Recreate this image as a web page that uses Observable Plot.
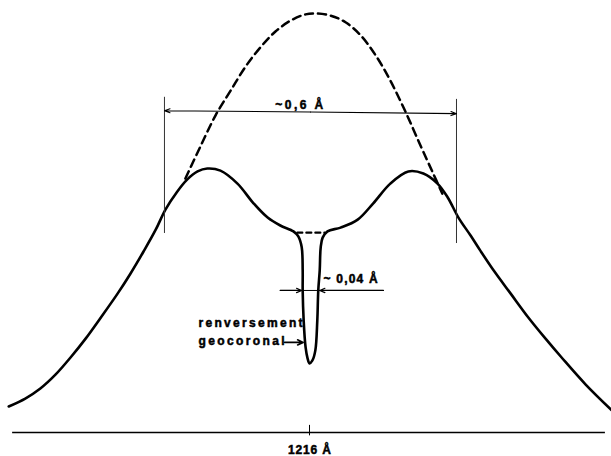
<!DOCTYPE html>
<html><head><meta charset="utf-8">
<script src="https://cdn.jsdelivr.net/npm/d3@7"></script>
<script src="https://cdn.jsdelivr.net/npm/@observablehq/plot@0.6"></script>
<style>body{margin:0;background:#fff}</style>
</head><body><div id="chart"></div>
<script>
// Observed Lyman-alpha profile (offset from line centre in Å, relative intensity)
const profileOffset = [-0.618,-0.584,-0.553,-0.522,-0.491,-0.460,-0.429,-0.394,-0.368,-0.341,-0.316,-0.296,-0.273,-0.251,-0.230,-0.210,-0.183,-0.148,-0.115,-0.086,-0.060,-0.033,-0.023,-0.016,-0.014,-0.014,-0.012,-0.008,-0.004,0.000,0.006,0.012,0.016,0.018,0.021,0.023,0.027,0.037,0.064,0.099,0.131,0.166,0.203,0.234,0.263,0.284,0.306,0.331,0.351,0.380,0.413,0.450,0.485,0.518,0.567,0.621];
const profileIntensity = [0.062,0.081,0.105,0.138,0.179,0.224,0.274,0.332,0.379,0.432,0.484,0.532,0.573,0.604,0.623,0.630,0.625,0.594,0.547,0.513,0.494,0.480,0.468,0.442,0.387,0.339,0.267,0.203,0.177,0.165,0.172,0.196,0.267,0.339,0.387,0.442,0.465,0.480,0.489,0.508,0.547,0.594,0.623,0.618,0.594,0.561,0.513,0.470,0.434,0.384,0.332,0.274,0.224,0.179,0.115,0.053];
// Unreversed (no self-absorption) profile, dashed
const unreversedOffset = [-0.255,-0.224,-0.193,-0.162,-0.131,-0.101,-0.070,-0.039,-0.008,0.012,0.043,0.074,0.105,0.136,0.166,0.197,0.228,0.253,0.273];
const unreversedIntensity = [0.606,0.683,0.757,0.816,0.874,0.919,0.957,0.983,0.998,1.000,0.995,0.979,0.948,0.900,0.840,0.766,0.685,0.621,0.570];
// Profile without geocoronal absorption, dashed plateau
const plateauOffset = [-0.025, 0.031];
const plateauIntensity = [0.477, 0.477];
// Axis
const tickValues = [0];
const tickLabels = ["1216 Å"];
// Annotation texts
const labelWide = "~0,6 Å";
const labelNarrow = "~ 0,04 Å";
const labelReversal = ["renversement", "geocoronal"];

const profile = profileOffset.map((x, i) => ({x, y: profileIntensity[i]}));
const unreversed = unreversedOffset.map((x, i) => ({x, y: unreversedIntensity[i]}));
const plateau = plateauOffset.map((x, i) => ({x, y: plateauIntensity[i]}));

const font = {fontSize: 12, fontWeight: "bold", stroke: "#000", strokeWidth: 0.5, fill: "#000"};

const chart = Plot.plot({
  width: 611, height: 456,
  marginTop: 13, marginBottom: 24, marginLeft: 0, marginRight: 0,
  x: {domain: [-0.6349, 0.6205]},
  y: {domain: [0, 1], axis: null},
  style: {fontFamily: "'Liberation Sans', Arial, sans-serif", fontWeight: "bold", fontSize: "12px", background: "#fff", color: "#000"},
  marks: [
    Plot.ruleY([0], {x1: -0.610, x2: 0.608, strokeWidth: 1.5}),
    Plot.ruleX(tickValues, {y1: -0.008, y2: 0.017, strokeWidth: 1}),
    Plot.axisX(tickValues, {tickFormat: d => tickLabels[tickValues.indexOf(d)], tickSize: 0, tickPadding: 13, label: null, fontWeight: "bold", fontSize: 12}),
    Plot.line(unreversed, {x: "x", y: "y", strokeWidth: 2.5, strokeDasharray: "8,5", curve: "catmull-rom"}),
    Plot.line(plateau, {x: "x", y: "y", strokeWidth: 2.2, strokeDasharray: "5,4"}),
    Plot.line(profile, {x: "x", y: "y", strokeWidth: 2.6, curve: "catmull-rom"}),
    // extension lines for the ~0.6 Å width
    Plot.ruleX([{x: -0.298, y1: 0.475, y2: 0.800}, {x: 0.302, y1: 0.451, y2: 0.795}], {x: "x", y1: "y1", y2: "y2", stroke: "#333", strokeWidth: 1}),
    // ~0.6 Å dimension line
    Plot.arrow([{x1: 0.002, y1: 0.765, x2: -0.298, y2: 0.768}, {x1: 0.002, y1: 0.765, x2: 0.302, y2: 0.761}], {x1: "x1", y1: "y1", x2: "x2", y2: "y2", strokeWidth: 1.1, headLength: 8, headAngle: 40}),
    Plot.text([labelWide], {x: -0.021, y: 0.773, lineAnchor: "bottom", textAnchor: "middle", ...font}),
    // ~0.04 Å dimension line
    Plot.ruleY([0.339], {x1: -0.060, x2: 0.152, strokeWidth: 1}),
    Plot.arrow([{x1: -0.060, y1: 0.339, x2: -0.016, y2: 0.339}, {x1: 0.152, y1: 0.339, x2: 0.021, y2: 0.339}], {x1: "x1", y1: "y1", x2: "x2", y2: "y2", strokeWidth: 1.2, headLength: 7, headAngle: 45}),
    Plot.text([labelNarrow], {x: 0.029, y: 0.356, lineAnchor: "bottom", textAnchor: "start", ...font}),
    // geocoronal reversal label
    Plot.text([labelReversal[0]], {x: -0.228, y: 0.251, lineAnchor: "bottom", textAnchor: "start", ...font}),
    Plot.text([labelReversal[1]], {x: -0.228, y: 0.208, lineAnchor: "bottom", textAnchor: "start", ...font}),
    Plot.arrow([{x1: -0.051, y1: 0.215, x2: -0.013, y2: 0.215}], {x1: "x1", y1: "y1", x2: "x2", y2: "y2", strokeWidth: 1.6, headLength: 7, headAngle: 50})
  ]
});

// Spread letters to match the widths of the original lettering; heavier axis label
const widths = {"~0,6 Å": 48, "~ 0,04 Å": 54, "renversement": 104, "geocoronal": 86, "1216 Å": 43};
d3.select(chart).selectAll("text").each(function () {
  const w = widths[this.textContent];
  if (w) { this.setAttribute("textLength", w); this.setAttribute("lengthAdjust", "spacing"); }
  if (this.textContent === tickLabels[0]) { this.setAttribute("stroke", "#000"); this.setAttribute("stroke-width", "0.5"); }
});
document.getElementById("chart").appendChild(chart);
</script>
</body></html>
